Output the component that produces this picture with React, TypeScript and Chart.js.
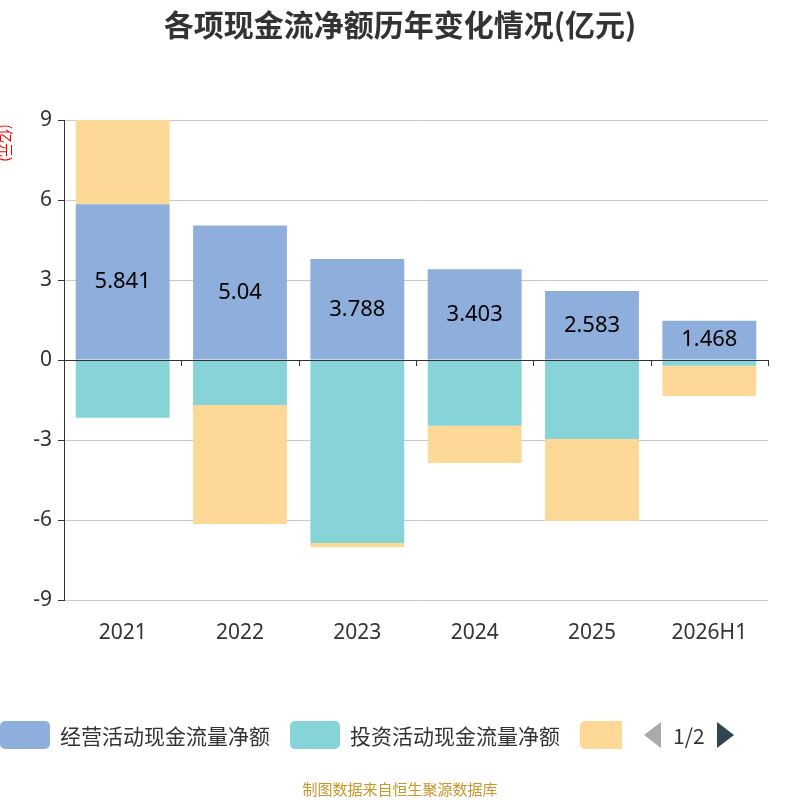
import React, { useEffect, useRef } from "react";
import { Chart, registerables } from "chart.js";
Chart.register(...registerables);

const categories = ["2021", "2022", "2023", "2024", "2025", "2026H1"];
const operating = [5.841, 5.04, 3.788, 3.403, 2.583, 1.468];
const investing = [-2.17, -1.69, -6.86, -2.47, -2.96, -0.22];
const financing = [3.2, -4.46, -0.15, -1.39, -3.08, -1.13];
const yTicks = [-9, -6, -3, 0, 3, 6, 9];

const overlay = {
  id: "overlay",
  afterDatasetsDraw(chart: any) {
    const { ctx, chartArea, scales } = chart;
    const y0 = scales.y.getPixelForValue(0);
    ctx.save();
    ctx.strokeStyle = "#333";
    ctx.lineWidth = 1;
    ctx.beginPath();
    ctx.moveTo(chartArea.left, y0 + 0.5);
    ctx.lineTo(chartArea.right, y0 + 0.5);
    const n = categories.length;
    const w = (chartArea.right - chartArea.left) / n;
    for (let i = 0; i <= n; i++) {
      const x = Math.round(chartArea.left + i * w) + 0.5;
      ctx.moveTo(x, y0);
      ctx.lineTo(x, y0 + 6);
    }
    ctx.stroke();
    // data labels
    const meta = chart.getDatasetMeta(0);
    ctx.fillStyle = "#000";
    ctx.font = "22px 'Noto Sans', sans-serif";
    ctx.textAlign = "center";
    ctx.textBaseline = "middle";
    meta.data.forEach((bar: any, i: number) => {
      ctx.fillText(String(operating[i]), bar.x, (bar.y + bar.base) / 2);
    });
    // title
    ctx.fillStyle = "#333";
    ctx.font = "bold 30px 'Noto Sans CJK SC', sans-serif";
    ctx.textBaseline = "middle";
    ctx.fillText("各项现金流净额历年变化情况(亿元)", 400, 25);
    // axis title
    ctx.translate(6, 143);
    ctx.rotate(Math.PI / 2);
    ctx.fillStyle = "#e00";
    ctx.font = "14px 'Noto Sans CJK SC', sans-serif";
    ctx.fillText("(亿元)", 0, 0);
    ctx.restore();
  },
};

export default function App() {
  const ref = useRef<HTMLCanvasElement>(null);
  useEffect(() => {
    document.body.style.margin = "0";
    const chart = new Chart(ref.current!, {
      type: "bar",
      data: {
        labels: categories,
        datasets: [
          { label: "经营活动现金流量净额", data: operating, backgroundColor: "#8eaedb" },
          { label: "投资活动现金流量净额", data: investing, backgroundColor: "#86d4d8" },
          { label: "筹资活动现金流量净额", data: financing, backgroundColor: "#fed897" },
        ],
      },
      options: {
        responsive: false,
        animation: false,
        layout: { padding: { top: 120, right: 32, left: 0, bottom: 0 } },
        datasets: { bar: { categoryPercentage: 1, barPercentage: 0.8 } },
        plugins: { legend: { display: false }, tooltip: { enabled: false } },
        scales: {
          x: {
            stacked: true,
            grid: { display: false },
            border: { display: false },
            ticks: { color: "#333", font: { size: 21, family: "'Noto Sans', sans-serif" }, padding: 12 },
            afterFit(s: any) { s.height = 200; },
          },
          y: {
            stacked: true,
            min: -9,
            max: 9,
            afterBuildTicks(s: any) { s.ticks = yTicks.map((v) => ({ value: v })); },
            grid: { color: "#c8c8c8", tickLength: 6, tickColor: "#333" },
            border: { color: "#333" },
            ticks: { color: "#333", font: { size: 21, family: "'Noto Sans', sans-serif" }, padding: 6 },
            afterFit(s: any) { s.width = 64; },
          },
        },
      },
      plugins: [overlay],
    });
    return () => chart.destroy();
  }, []);
  const sw = (c: string) => (
    <span style={{ display: "inline-block", width: 50, height: 28, borderRadius: 5, background: c, marginRight: 10 }} />
  );
  const txt: React.CSSProperties = { fontSize: 21, color: "#333" };
  return (
    <div style={{ position: "relative", width: 800, height: 800, fontFamily: "'Noto Sans CJK SC', sans-serif" }}>
      <canvas ref={ref} width={800} height={800} />
      <div style={{ position: "absolute", left: 0, top: 718, height: 34, width: 800, display: "flex", alignItems: "center", overflow: "hidden", whiteSpace: "nowrap" }}>
        {sw("#8eaedb")}<span style={{ ...txt, marginRight: 20 }}>经营活动现金流量净额</span>
        {sw("#86d4d8")}<span style={{ ...txt, marginRight: 20 }}>投资活动现金流量净额</span>
        <span style={{ display: "inline-block", width: 42, height: 28, borderRadius: "5px 0 0 5px", background: "#fed897", marginRight: 22 }} />
        <span style={{ width: 0, height: 0, borderTop: "13px solid transparent", borderBottom: "13px solid transparent", borderRight: "17px solid #aaa", marginRight: 12 }} />
        <span style={{ ...txt, marginRight: 12 }}>1/2</span>
        <span style={{ width: 0, height: 0, borderTop: "13px solid transparent", borderBottom: "13px solid transparent", borderLeft: "17px solid #2f4554" }} />
      </div>
      <div style={{ position: "absolute", top: 778, width: 800, textAlign: "center", fontSize: 15, color: "#c9962a" }}>制图数据来自恒生聚源数据库</div>
    </div>
  );
}
